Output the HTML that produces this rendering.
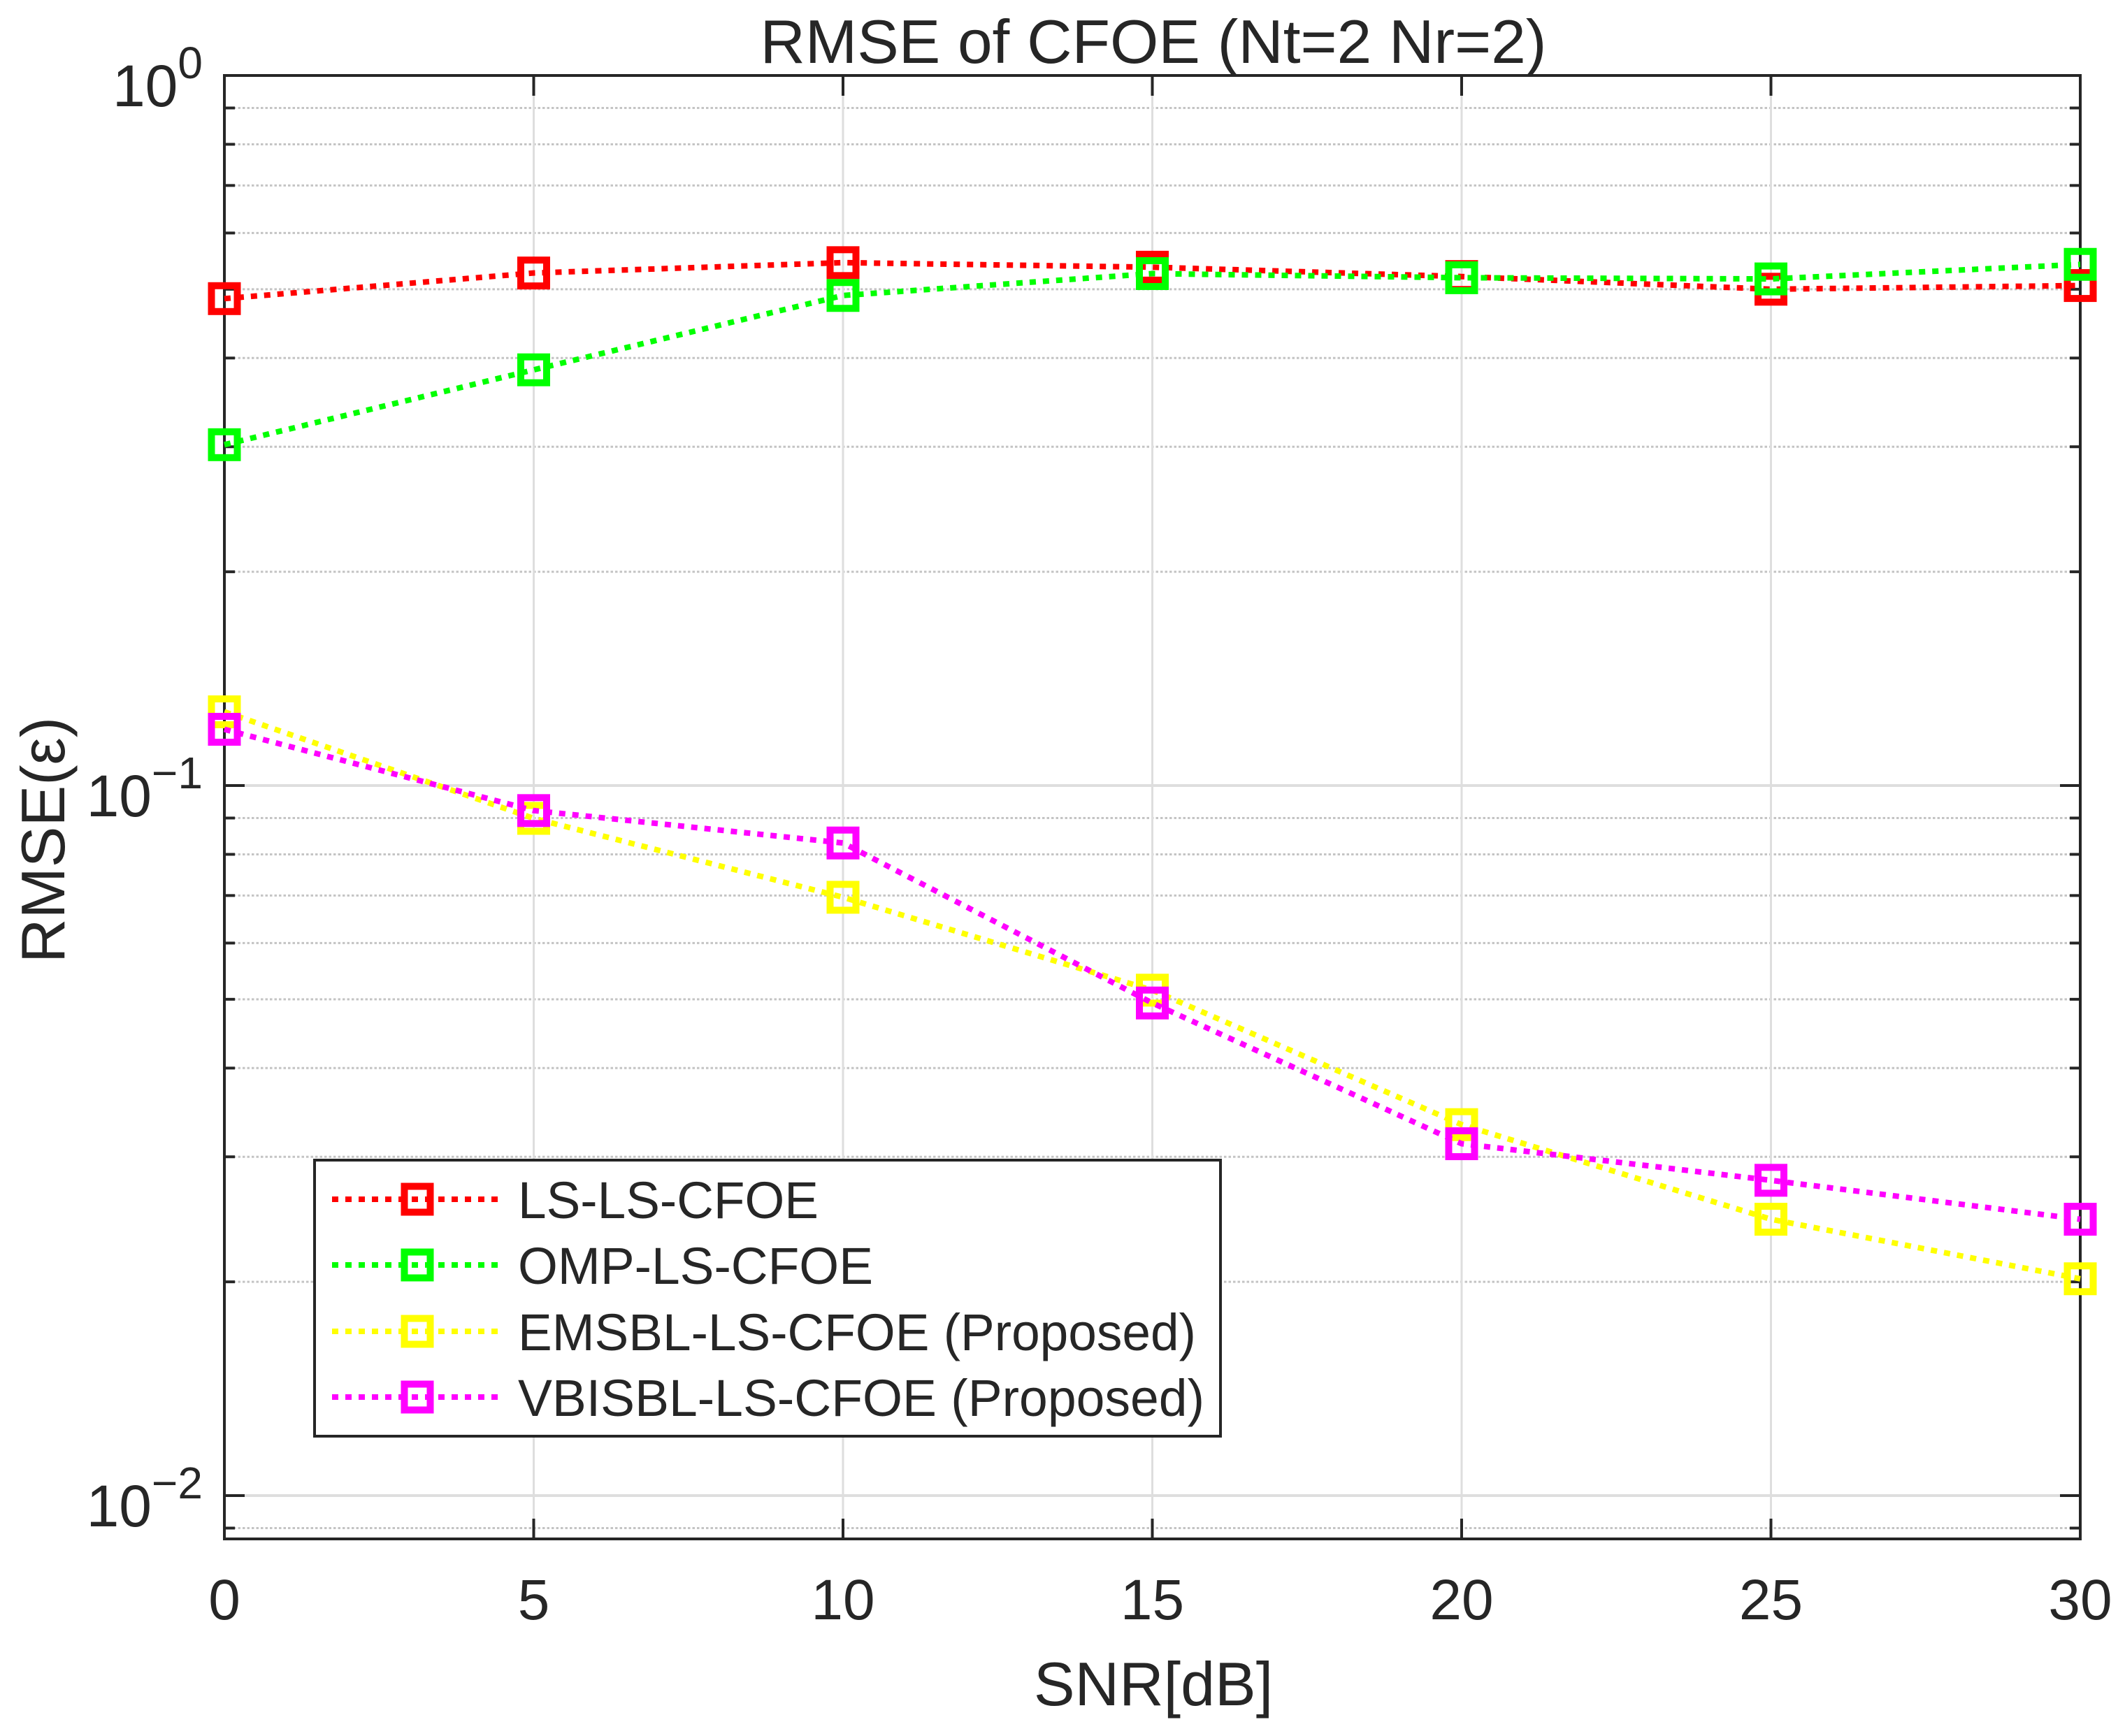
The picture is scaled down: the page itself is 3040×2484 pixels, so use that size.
<!DOCTYPE html>
<html><head><meta charset="utf-8"><style>
html,body{margin:0;padding:0;background:#fff;}
svg{display:block;}
text{font-family:"Liberation Sans",Arial,sans-serif;fill:#262626;}
</style></head><body>
<svg id="chart" width="3040" height="2484" viewBox="0 0 3040 2484" xmlns="http://www.w3.org/2000/svg">
<rect x="0" y="0" width="3040" height="2484" fill="#fff"/>
<g id="grid"></g>
<g id="axes"></g>
<g id="series"></g>
<g id="legend"></g>
<text x="1650" y="90" font-size="88" text-anchor="middle" textLength="1125" lengthAdjust="spacingAndGlyphs">RMSE of CFOE (Nt=2 Nr=2)</text>
<text x="1650" y="2440" font-size="88" text-anchor="middle">SNR[dB]</text>
<text x="0" y="0" font-size="88" text-anchor="middle" transform="translate(92,1202) rotate(-90)">RMSE(ε)</text>
</svg>
<script>
const snr = [0, 5, 10, 15, 20, 25, 30];
const xTicks = [0, 5, 10, 15, 20, 25, 30];
const yDecades = [0, -1, -2];
const seriesNames = ["LS-LS-CFOE", "OMP-LS-CFOE", "EMSBL-LS-CFOE (Proposed)", "VBISBL-LS-CFOE (Proposed)"];
const lsVals = [0.485, 0.527, 0.545, 0.537, 0.521, 0.500, 0.506];
const ompVals = [0.302, 0.385, 0.490, 0.526, 0.519, 0.517, 0.542];
const emVals = [0.127, 0.0899, 0.0696, 0.0515, 0.0333, 0.0245, 0.0202];
const vbVals = [0.120, 0.0922, 0.083, 0.0494, 0.0313, 0.0278, 0.0245];

const NS = "http://www.w3.org/2000/svg";
const L = 321, R = 2976, T = 108, B = 2202;
const DEC = 1016;
const xMin = 0, xMax = 30;
function xs(v){ return L + (v - xMin) / (xMax - xMin) * (R - L); }
function ys(v){ return T + (0 - Math.log10(v)) * DEC; }
function mk(tag, attrs, parent){
  const e = document.createElementNS(NS, tag);
  for (const k in attrs) e.setAttribute(k, attrs[k]);
  parent.appendChild(e);
  return e;
}
const grid = document.getElementById('grid');
const axes = document.getElementById('axes');
const series = document.getElementById('series');
const legend = document.getElementById('legend');

for (const d of [0, -1, -2, -3]) {
  for (let m = 2; m <= 9; m++) {
    const v = m * Math.pow(10, d - 1);
    const y = ys(v);
    if (y < T || y > B) continue;
    const g = mk('line', {x1: L, x2: R, y1: y, y2: y, stroke: '#c4c4c4', 'stroke-width': 3, 'stroke-dasharray': '3.5 3'}, grid);
    
    
    const t1 = mk('line', {x1: L, x2: L + 15, y1: y, y2: y, stroke: '#262626', 'stroke-width': 4}, axes);
    
    
    const t2 = mk('line', {x1: R - 15, x2: R, y1: y, y2: y, stroke: '#262626', 'stroke-width': 4}, axes);
    
    
  }
}
for (const d of yDecades) {
  const y = ys(Math.pow(10, d));
  if (d !== 0) {
    const g = mk('line', {x1: L, x2: R, y1: y, y2: y, stroke: '#dedede', 'stroke-width': 4}, grid);
    
    
  }
  const t1 = mk('line', {x1: L, x2: L + 29, y1: y, y2: y, stroke: '#262626', 'stroke-width': 4}, axes);
  
  
  const t2 = mk('line', {x1: R - 29, x2: R, y1: y, y2: y, stroke: '#262626', 'stroke-width': 4}, axes);
  
  
  const tx = mk('text', {x: 290, y: y + 44, 'font-size': 84, 'text-anchor': 'end'}, axes);
  
  
  const a = mk('tspan', {}, tx); a.textContent = '10';
  const b = mk('tspan', {dy: -40, 'font-size': 64}, tx); b.textContent = d === 0 ? '0' : '\u2212' + (-d);
}
for (const v of xTicks) {
  const x = xs(v);
  if (v !== xMin && v !== xMax) {
    const g = mk('line', {x1: x, x2: x, y1: T, y2: B, stroke: '#dedede', 'stroke-width': 3}, grid);
    
    
  }
  const t1 = mk('line', {x1: x, x2: x, y1: B, y2: B - 29, stroke: '#262626', 'stroke-width': 4}, axes);
  
  
  const t2 = mk('line', {x1: x, x2: x, y1: T, y2: T + 29, stroke: '#262626', 'stroke-width': 4}, axes);
  
  
  const tx = mk('text', {x: x, y: 2317, 'font-size': 82, 'text-anchor': 'middle'}, axes);
  
  
  tx.textContent = String(v);
}
const box = mk('rect', {x: L, y: T, width: R - L, height: B - T, fill: 'none', stroke: '#262626', 'stroke-width': 4}, axes);



const colors = ['#ff0000', '#00ff00', '#ffff00', '#ff00ff'];
const allVals = [lsVals, ompVals, emVals, vbVals];
const keys = ['ls-ls-cfoe', 'omp-ls-cfoe', 'emsbl-ls-cfoe', 'vbisbl-ls-cfoe'];
function marker(cx, cy, c, parent){
  return mk('rect', {x: cx - 18.5, y: cy - 18.5, width: 37, height: 37, fill: 'none', stroke: c, 'stroke-width': 10}, parent);
}
allVals.forEach((vals, i) => {
  const g = mk('g', {}, series);
  
  
  const pts = vals.map((v, j) => xs(snr[j]).toFixed(1) + ',' + ys(v).toFixed(1)).join(' ');
  const pl = mk('polyline', {points: pts, fill: 'none', stroke: colors[i], 'stroke-width': 8, 'stroke-dasharray': '9 10'}, g);
  
  
  vals.forEach((v, j) => {
    const m = marker(xs(snr[j]), ys(v), colors[i], g);
    
    
  });
});

const lb = mk('rect', {x: 450, y: 1660, width: 1296, height: 395, fill: '#fff', stroke: '#262626', 'stroke-width': 4}, legend);


const rowY = [1716, 1810, 1905, 1999];
const labelW = [430, 508, 970, 982];
seriesNames.forEach((n, i) => {
  const g = mk('g', {}, legend);
  
  
  const ln = mk('line', {x1: 475, x2: 714, y1: rowY[i], y2: rowY[i], stroke: colors[i], 'stroke-width': 8, 'stroke-dasharray': '9 10'}, g);
  
  
  const m = marker(597, rowY[i], colors[i], g);
  
  
  const t = mk('text', {x: 741, y: rowY[i] + 27, 'font-size': 74, fill: '#000', textLength: labelW[i], lengthAdjust: 'spacingAndGlyphs'}, g);
  
  
  t.textContent = n;
});
</script>
</body></html>
